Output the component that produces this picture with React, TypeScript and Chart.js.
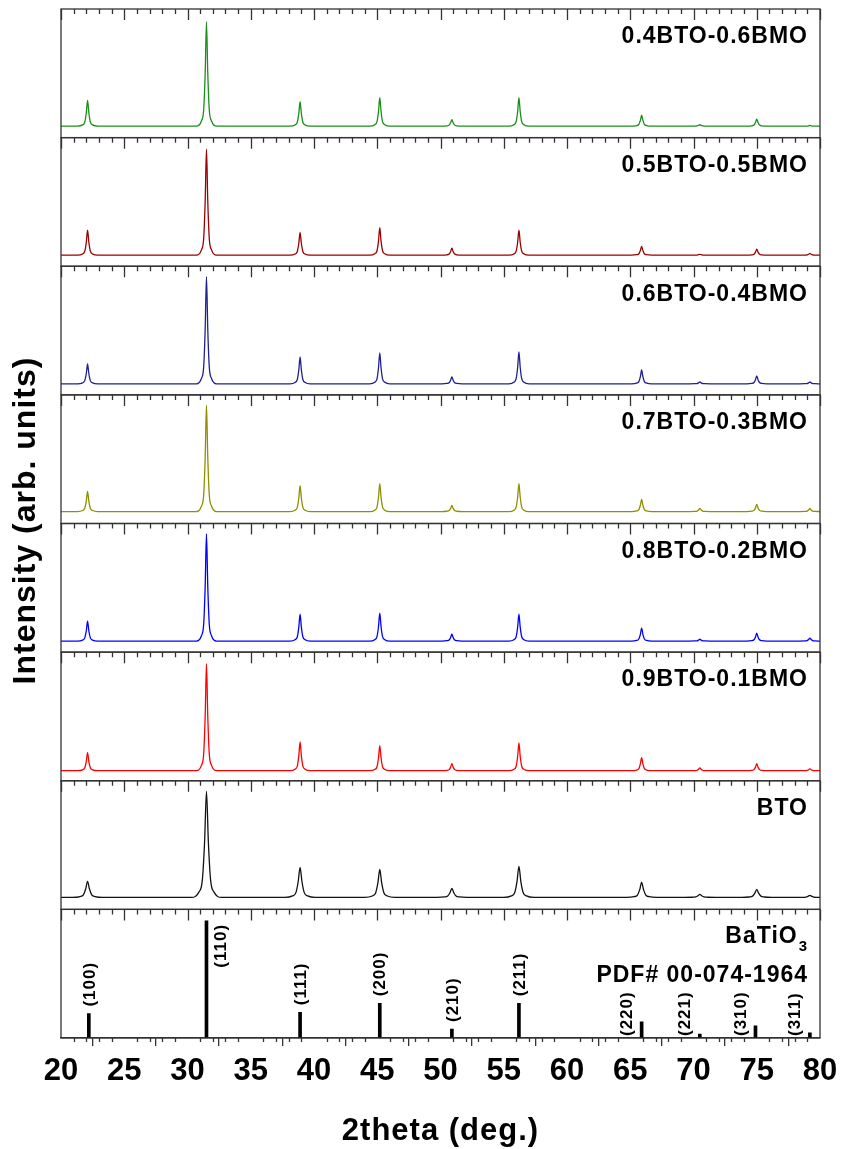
import { useEffect, useRef } from 'react';
import { Chart, registerables } from 'chart.js';

Chart.register(...registerables);

// ---------- data ----------
const X_MIN = 20;
const X_MAX = 80;
const X_STEP = 5;
const X_MINOR_STEP = 1;

const SAMPLE_NAMES = [
  '0.4BTO-0.6BMO',
  '0.5BTO-0.5BMO',
  '0.6BTO-0.4BMO',
  '0.7BTO-0.3BMO',
  '0.8BTO-0.2BMO',
  '0.9BTO-0.1BMO',
  'BTO',
];
const SAMPLE_COLORS = ['#1a8f1a', '#990000', '#202090', '#8f8f00', '#0000ff', '#ff0000', '#111111'];

// 2theta of the diffraction peaks
const PEAK_POSITIONS = [22.1, 31.5, 38.9, 45.2, 50.9, 56.2, 65.9, 70.5, 75.0, 79.2];
// background level of each pattern (panel units, 0-100)
const BASELINES = [8.9, 8.6, 8.6, 9.3, 8.6, 7.8, 9.3];
// peak top of each pattern at PEAK_POSITIONS (panel units)
const PEAKS_04 = [29, 90, 28, 31, 14, 31, 17.5, 10, 14.4, 9.5];
const PEAKS_05 = [28, 91, 26.4, 30, 14, 28, 15.5, 9.3, 13.2, 10];
const PEAKS_06 = [24, 92, 29.5, 32.7, 14, 33.4, 19.4, 10, 14.8, 10];
const PEAKS_07 = [25, 92, 29.5, 31, 14, 31, 18.7, 11.7, 14.8, 11.7];
const PEAKS_08 = [24, 92, 29.5, 30.3, 14, 29.5, 18.7, 10, 14.8, 10.9];
const PEAKS_09 = [21.8, 91, 30.3, 27.2, 13.2, 29.5, 17.9, 10, 13.2, 9.3];
const PEAKS_BTO = [21.8, 91.8, 32.7, 31, 16.3, 33.4, 21, 11.7, 15.6, 10.9];
const SERIES_PEAKS = [PEAKS_04, PEAKS_05, PEAKS_06, PEAKS_07, PEAKS_08, PEAKS_09, PEAKS_BTO];
// relative peak breadth of each pattern
const PEAK_WIDTH_SCALE = [1, 1, 1, 1, 1, 1, 1.5];
// peak profile: offset from centre (deg) and fraction of peak height
const PROFILE_OFFSETS = [-0.8, -0.4, -0.22, -0.1, 0, 0.1, 0.22, 0.4, 0.8];
const PROFILE_FRACTIONS = [0, 0.05, 0.16, 0.52, 1, 0.52, 0.16, 0.05, 0];

// reference pattern BaTiO3 PDF# 00-074-1964
const REF_POSITIONS = [22.2, 31.5, 38.9, 45.2, 50.9, 56.2, 65.9, 70.5, 74.9, 79.2];
const REF_INTENSITIES = [19, 91, 20, 27, 7, 27, 12.5, 3, 9.4, 4];
const REF_HKL = ['(100)', '(110)', '(111)', '(200)', '(210)', '(211)', '(220)', '(221)', '(310)', '(311)'];
const REF_NAME = 'BaTiO';
const REF_NAME_SUB = '3';
const REF_PDF = 'PDF# 00-074-1964';

const X_TITLE = '2theta (deg.)';
const Y_TITLE = 'Intensity (arb. units)';

// label placement of hkl labels (style)
const HKL_SIDE = ['above', 'right', 'above', 'above', 'above', 'above', 'left', 'left', 'left', 'left'];

const FONT = 'Arial, "Liberation Sans", sans-serif';
const FRAME = '#333333';
const PANEL_COUNT = SAMPLE_NAMES.length + 1;

function buildSeries(idx: number) {
  const base = BASELINES[idx];
  const peaks = SERIES_PEAKS[idx];
  const ws = PEAK_WIDTH_SCALE[idx];
  const pts: { x: number; y: number }[] = [{ x: X_MIN, y: base }];
  PEAK_POSITIONS.forEach((p, k) => {
    PROFILE_OFFSETS.forEach((o, j) => {
      const x = p + o * ws;
      if (x > X_MIN && x < X_MAX) pts.push({ x, y: base + (peaks[k] - base) * PROFILE_FRACTIONS[j] });
    });
  });
  pts.push({ x: X_MAX, y: base });
  return pts;
}

const panelPlugin = {
  id: 'panels',
  afterDatasetsDraw(chart: any) {
    const ctx = chart.ctx as CanvasRenderingContext2D;
    const xs = chart.scales.x;
    const { left, right, top, bottom } = chart.chartArea;
    ctx.save();
    ctx.strokeStyle = FRAME;
    ctx.lineWidth = 1.3;
    for (let i = 0; i < PANEL_COUNT; i++) {
      const ys = chart.scales['y' + i];
      ctx.strokeRect(left, ys.top, right - left, ys.bottom - ys.top);
      ctx.beginPath();
      for (let v = X_MIN; v <= X_MAX; v += X_MINOR_STEP) {
        const px = Math.round(xs.getPixelForValue(v)) + 0.5;
        const len = v % X_STEP === 0 ? 11 : 5;
        ctx.moveTo(px, ys.top);
        ctx.lineTo(px, ys.top + len);
      }
      ctx.stroke();
    }
    // minor ticks on the outer bottom axis
    ctx.beginPath();
    for (let v = X_MIN; v <= X_MAX; v += X_MINOR_STEP) {
      if (v % X_STEP === 0) continue;
      const px = Math.round(xs.getPixelForValue(v)) + 0.5;
      ctx.moveTo(px, bottom);
      ctx.lineTo(px, bottom + 4);
    }
    ctx.stroke();

    // panel labels
    ctx.fillStyle = '#000';
    (ctx as any).letterSpacing = '1px';
    ctx.font = `bold 23px ${FONT}`;
    ctx.textAlign = 'right';
    ctx.textBaseline = 'middle';
    for (let i = 0; i < SAMPLE_NAMES.length; i++) {
      const ys = chart.scales['y' + i];
      ctx.fillText(SAMPLE_NAMES[i], right - 12, ys.top + 28);
    }
    // reference labels
    const yr = chart.scales['y' + (PANEL_COUNT - 1)];
    ctx.font = `bold 15px ${FONT}`;
    const subW = ctx.measureText(REF_NAME_SUB).width;
    const nameRight = right - 12 - subW - 1;
    ctx.font = `bold 23px ${FONT}`;
    ctx.fillText(REF_NAME, nameRight, yr.top + 27);
    ctx.font = `bold 15px ${FONT}`;
    ctx.textAlign = 'left';
    ctx.fillText(REF_NAME_SUB, nameRight + 1, yr.top + 37);
    ctx.font = `bold 23px ${FONT}`;
    ctx.textAlign = 'right';
    ctx.fillText(REF_PDF, right - 12, yr.top + 66);

    // hkl labels
    ctx.font = `bold 17px ${FONT}`;
    REF_POSITIONS.forEach((p, k) => {
      const px = xs.getPixelForValue(p);
      const py = yr.getPixelForValue(REF_INTENSITIES[k]);
      ctx.save();
      const side = HKL_SIDE[k];
      if (side === 'above') {
        ctx.translate(px + 1, py - 7);
        ctx.rotate(-Math.PI / 2);
        ctx.textAlign = 'left';
      } else if (side === 'right') {
        ctx.translate(px + 15, py + 3);
        ctx.rotate(-Math.PI / 2);
        ctx.textAlign = 'right';
      } else {
        ctx.translate(px - 14.5, yr.bottom - 2);
        ctx.rotate(-Math.PI / 2);
        ctx.textAlign = 'left';
      }
      ctx.textBaseline = 'middle';
      ctx.fillText(REF_HKL[k], 0, 0);
      ctx.restore();
    });

    // axis titles
    ctx.font = `bold 31px ${FONT}`;
    ctx.textAlign = 'center';
    ctx.textBaseline = 'middle';
    ctx.fillText(X_TITLE, (left + right) / 2, 1131);
    ctx.save();
    ctx.translate(26, (top + bottom) / 2 - 3);
    ctx.rotate(-Math.PI / 2);
    ctx.font = `bold 32px ${FONT}`;
    ctx.fillText(Y_TITLE, 0, 0);
    ctx.restore();
    ctx.restore();
  },
};

export default function App() {
  const ref = useRef<HTMLCanvasElement | null>(null);
  useEffect(() => {
    if (!ref.current) return;
    const datasets: any[] = SAMPLE_NAMES.map((name, i) => ({
      type: 'line',
      label: name,
      data: buildSeries(i),
      yAxisID: 'y' + i,
      borderColor: SAMPLE_COLORS[i],
      borderWidth: 1.3,
      pointRadius: 0,
      cubicInterpolationMode: 'monotone',
      fill: false,
    }));
    datasets.push({
      type: 'bar',
      label: 'BaTiO3',
      data: REF_POSITIONS.map((x, i) => ({ x, y: REF_INTENSITIES[i] })),
      yAxisID: 'y' + (PANEL_COUNT - 1),
      backgroundColor: '#000',
      borderWidth: 0,
      barThickness: 3,
    });
    const scales: any = {
      x: {
        type: 'linear',
        min: X_MIN,
        max: X_MAX,
        offset: false,
        ticks: {
          stepSize: X_STEP,
          autoSkip: false,
          maxRotation: 0,
          padding: 7,
          color: '#000',
          font: { family: FONT, size: 31, weight: 'bold' },
        },
        grid: { display: true, drawOnChartArea: false, drawTicks: true, tickLength: 8, color: FRAME, lineWidth: 1.3 },
        border: { display: true, color: FRAME, width: 1.3 },
        afterFit: (s: any) => {
          s.height = 111;
          s.paddingLeft = 0;
          s.paddingRight = 0;
        },
      },
    };
    // stacked scales are laid out bottom-up in definition order, so define the bottom panel first
    for (let i = PANEL_COUNT - 1; i >= 0; i--) {
      scales['y' + i] = {
        type: 'linear',
        min: 0,
        max: 100,
        stack: 'panels',
        stackWeight: 1,
        position: 'left',
        display: true,
        ticks: { display: false },
        grid: { display: false },
        border: { display: false },
        afterFit: (s: any) => {
          s.width = 0;
        },
      };
    }
    const chart = new Chart(ref.current, {
      type: 'line',
      data: { datasets },
      options: {
        responsive: false,
        animation: false,
        layout: { padding: { left: 61, right: 21, top: 9, bottom: 0 } },
        plugins: { legend: { display: false }, tooltip: { enabled: false } },
        scales,
      },
      plugins: [panelPlugin],
    } as any);
    return () => chart.destroy();
  }, []);
  return (
    <div style={{ position: 'absolute', left: 0, top: 0, width: 841, height: 1149, background: '#fff' }}>
      <canvas ref={ref} width={841} height={1149} style={{ display: 'block' }} />
    </div>
  );
}
